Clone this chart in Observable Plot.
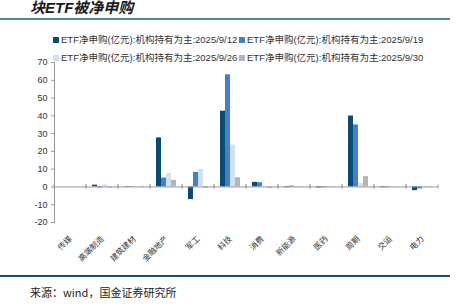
<!DOCTYPE html>
<html><head><meta charset="utf-8">
<script src="https://cdn.jsdelivr.net/npm/d3@7"></script>
<script src="https://cdn.jsdelivr.net/npm/@observablehq/plot@0.6"></script>
<style>
body{margin:0;background:#fff;}
#wrap{position:relative;width:458px;height:306px;overflow:hidden;font-family:"Liberation Sans",Arial,"Noto Sans CJK SC",sans-serif;}
#title{position:absolute;left:30px;top:0px;font-size:15px;line-height:16px;font-weight:bold;font-style:italic;color:#1a1a1a;font-family:"Liberation Sans","Noto Sans CJK SC",sans-serif;white-space:nowrap;}
#topline{position:absolute;left:0;top:18px;width:450px;height:2px;background:#4d86a8;}
#botline{position:absolute;left:0;top:275px;width:450px;height:2px;background:#1f4f7a;}
#caption{position:absolute;left:30px;top:284px;font-size:11px;color:#222;font-family:"Noto Sans CJK SC",sans-serif;white-space:nowrap;}
#chart{position:absolute;left:0;top:0;}
.leg{position:absolute;font-size:9.5px;color:#333;white-space:nowrap;line-height:12px;}
.sw{display:inline-block;width:6px;height:6px;margin-right:2px;vertical-align:0px;}
</style></head>
<body><div id="wrap">
<div id="chart"></div>
<div id="title">块ETF被净申购</div>
<div id="topline"></div>
<div id="legend"></div>
<div id="botline"></div>
<div id="caption">来源：wind，国金证券研究所</div>
</div>
<script>
const categories = ["传媒","高端制造","建筑建材","金融地产","军工","科技","消费","新能源","医药","周期","交运","电力"];
const seriesNames = [
  "ETF净申购(亿元):机构持有为主:2025/9/12",
  "ETF净申购(亿元):机构持有为主:2025/9/19",
  "ETF净申购(亿元):机构持有为主:2025/9/26",
  "ETF净申购(亿元):机构持有为主:2025/9/30"
];
const v0912 = [0, 1.0, -0.3, 27.6, -7.1, 42.6, 2.6, -0.4, -0.5, 39.9, -0.4, -2.1];
const v0919 = [0, -0.6, -0.3, 5.0, 8.2, 63.1, 2.4, 0.5, -0.4, 34.9, -0.4, -1.1];
const v0926 = [0, 1.2, -0.1, 7.5, 9.9, 23.5, -0.3, -0.7, 0.4, 2.0, -0.1, -0.2];
const v0930 = [0, -0.6, 0.3, 3.7, -0.8, 5.2, -0.8, -0.2, -0.2, 5.8, -0.2, -0.3];
const yTicks = [-20, -10, 0, 10, 20, 30, 40, 50, 60, 70];
const colors = ["#0b4a72", "#4281c6", "#cfe1f3", "#b5b5b5"];

const seriesValues = [v0912, v0919, v0926, v0930];
const data = [];
categories.forEach((c, i) => seriesNames.forEach((s, j) => data.push({cat: c, series: s, value: seriesValues[j][i]})));

// legend (HTML)
const legend = document.getElementById("legend");
const legPos = [[53, 34], [239, 34], [53, 52], [239, 52]];
seriesNames.forEach((s, j) => {
  const d = document.createElement("div");
  d.className = "leg";
  d.style.left = legPos[j][0] + "px";
  d.style.top = legPos[j][1] + "px";
  d.innerHTML = `<span class="sw" style="background:${colors[j]}"></span>${s}`;
  legend.appendChild(d);
});

const boundaryTicks = (index, scales, values, dimensions) => {
  const g = d3.create("svg:g");
  const r = scales.x.range();
  const y0 = scales.y(0);
  for (const xv of r) {
    g.append("line").attr("x1", xv).attr("x2", xv).attr("y1", y0 - 2).attr("y2", y0 + 2)
      .attr("stroke", "#999").attr("stroke-width", 1);
  }
  return g.node();
};

const chart = Plot.plot({
  width: 458,
  height: 265,
  marginLeft: 52,
  marginRight: 18,
  marginTop: 62,
  marginBottom: 43,
  style: {fontFamily: "'Liberation Sans', Arial, 'Noto Sans CJK SC', sans-serif", background: "transparent"},
  fx: {domain: categories, padding: 0, label: null},
  x: {domain: seriesNames, paddingInner: 0.05, paddingOuter: 0.8, axis: null},
  y: {domain: [-20, 70], label: null},
  color: {domain: seriesNames, range: colors},
  marks: [
    Plot.barY(data, {fx: "cat", x: "series", y: "value", fill: "series"}),
    Plot.ruleY([0], {stroke: "#9a9a9a", strokeWidth: 1}),
    boundaryTicks,
    Plot.frame({anchor: "left", facetAnchor: "left", stroke: "#9a9a9a"}),
    Plot.axisY({ticks: yTicks, tickSize: 3, tickPadding: 4, stroke: "#9a9a9a", fill: "#333", fontSize: 9, label: null, tickFormat: d => String(d)}),
    Plot.axisFx({anchor: "bottom", tickRotate: -45, tickSize: 0, tickPadding: 15, fontSize: 8, fill: "#333", label: null, fontFamily: "'Noto Sans CJK SC', sans-serif"})
  ]
});
document.getElementById("chart").appendChild(chart);
</script>
</body></html>
